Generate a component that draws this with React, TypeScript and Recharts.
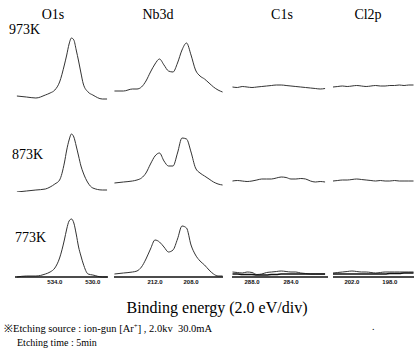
import { LineChart, Line, XAxis, YAxis } from "recharts";

// energy grids (eV) per element
const o1sEnergy = [538, 537, 536, 535, 534.5, 534, 533.5, 533, 532.75, 532.5, 532.25, 532, 531.75, 531.5, 531.25, 531, 530.5, 530, 529, 528.5];
const nb3dEnergy = [216.5, 215.5, 214.5, 214, 213.5, 213, 212.5, 212, 211.5, 211, 210.5, 210, 209.5, 209, 208.5, 208, 207.5, 207, 206.5, 206, 205.5, 205, 204.5];
const c1sEnergy = [290, 289.5, 289, 288.5, 288, 287.5, 287, 286.5, 286, 285.5, 285, 284.5, 284, 283.5, 283, 282.5, 282, 281.5, 281, 280.5];
const cl2pEnergy = [204, 203.5, 203, 202.5, 202, 201.5, 201, 200.5, 200, 199.5, 199, 198.5, 198, 197.5, 197, 196.5, 196, 195.5];

// intensities (arb.) per temperature
const o1s973 = [4, 3, 2, 5, 7, 10, 18, 35, 45, 56, 62, 60, 50, 39, 27, 16, 8, 5, 1, 1];
const o1s873 = [0, 1, 2, 3, 5, 8, 12, 29, 42, 52, 58, 55, 46, 36, 26, 19, 9, 4, 2, 2];
const o1s773 = [0, 1, 1, 3, 5, 9, 19, 37, 48, 56, 58, 54, 43, 30, 21, 13, 3, 2, 0, 0];

const nb3d973 = [9, 9, 11, 11, 13, 19, 28, 36, 41, 35, 29, 28, 37, 50, 57, 45, 30, 24, 21, 17, 13, 10, 8];
const nb3d873 = [9, 10, 11, 12, 14, 19, 28, 36, 39, 31, 26, 26, 39, 54, 53, 40, 24, 19, 16, 13, 10, 8, 7];
const nb3d773 = [3, 4, 5, 6, 10, 18, 28, 37, 35, 30, 25, 27, 38, 51, 49, 32, 22, 16, 12, 7, 3, 1, 1];

const c1s973 = [13, 12.5, 13.5, 13, 12.5, 13, 13.5, 14, 14.5, 15, 15, 14.5, 14, 13.5, 13, 12.5, 12, 11.5, 11, 11.5];
const c1s873 = [11, 11.5, 11, 10.5, 11, 12, 13, 13, 13, 14, 15, 14.5, 13, 13, 13.5, 13, 11, 10, 10.5, 10];
const c1s773a = [5, 4.5, 4, 5, 4.5, 2.5, 3, 4.5, 5, 5.5, 6, 5.5, 5, 5, 4, 3.5, 3, 3, 3, 3];
const c1s773b = [3, 3, 2.5, 2.5, 2.5, 2, 2, 2, 2.5, 2.5, 3, 3, 3, 3, 3, 3, 3, 3, 3, 3];

const cl2p973 = [13, 13.5, 14, 13.5, 14, 14.5, 14, 13.5, 14, 14.5, 14, 14, 14.5, 14.5, 15, 14.5, 15, 15];
const cl2p873 = [11, 11.5, 12, 12, 12.5, 13, 12.5, 12, 11.5, 11, 11.5, 11, 11, 11.5, 11, 11, 11, 11];
const cl2p773a = [4, 4.5, 5, 5.5, 6, 5.5, 5, 5, 4.5, 4, 4.5, 5, 5, 5, 5, 5, 5, 5];
const cl2p773b = [3, 3, 3, 3, 3, 3, 3, 3, 3, 3, 3, 3, 3.5, 3.5, 3.5, 4, 4, 4];

const elements = ["O1s", "Nb3d", "C1s", "Cl2p"];
const temps = ["973K", "873K", "773K"];

const o1sTicks = [534, 530];
const nb3dTicks = [212, 208];
const c1sTicks = [288, 284];
const cl2pTicks = [202, 198];

const serif = "'Liberation Serif', 'DejaVu Serif', serif";

type Col = {
  left: number;
  width: number;
  domain: [number, number];
  energy: number[];
  rows: number[][][];
  ticks: number[];
};

const cols: Col[] = [
  { left: 15, width: 93, domain: [528.4, 538.2], energy: o1sEnergy, rows: [[o1s973], [o1s873], [o1s773]], ticks: o1sTicks },
  { left: 114, width: 109, domain: [204.45, 216.55], energy: nb3dEnergy, rows: [[nb3d973], [nb3d873], [nb3d773]], ticks: nb3dTicks },
  { left: 232, width: 96, domain: [280.2, 290.05], energy: c1sEnergy, rows: [[c1s973], [c1s873], [c1s773a, c1s773b]], ticks: c1sTicks },
  { left: 333, width: 81, domain: [195.45, 204], energy: cl2pEnergy, rows: [[cl2p973], [cl2p873], [cl2p773a, cl2p773b]], ticks: cl2pTicks },
];

const rowTops = [28, 120, 205];
const plotH = 72;
const axisH = 12;

function Spectrum({ col, row }: { col: Col; row: number }) {
  const series = col.rows[row];
  const data = col.energy.map((e, i) => {
    const d: Record<string, number> = { e };
    series.forEach((s, k) => (d["s" + k] = s[i]));
    return d;
  });
  const bottom = row === 2;
  return (
    <div style={{ position: "absolute", left: col.left, top: rowTops[row] }}>
      <LineChart
        width={col.width}
        height={plotH + (bottom ? axisH : 0)}
        data={data}
        margin={{ top: 0, right: 0, bottom: 0, left: 0 }}
      >
        <XAxis
          type="number"
          dataKey="e"
          domain={col.domain}
          reversed
          hide={!bottom}
          ticks={col.ticks}
          height={axisH}
          tickLine={false}
          tickSize={2}
          tickMargin={1}
          axisLine={{ stroke: "#111", strokeWidth: 1.5 }}
          tickFormatter={(v: number) => v.toFixed(1)}
          tick={{ fontSize: 6, fontWeight: 700, fill: "#111", fontFamily: "'Liberation Sans', sans-serif" }}
        />
        <YAxis hide domain={[0, plotH]} />
        {series.map((_, k) => (
          <Line
            key={k}
            dataKey={"s" + k}
            type="monotone"
            stroke={k === 0 ? "#333" : "#111"}
            strokeWidth={k === 0 ? 1 : 1.4}
            dot={false}
            isAnimationActive={false}
          />
        ))}
      </LineChart>
    </div>
  );
}

const titleX = [53, 158, 282, 368];
const tempPos = [
  { left: 9, top: 22 },
  { left: 12, top: 147 },
  { left: 15, top: 230 },
];

export default function App() {
  return (
    <div
      style={{
        position: "absolute",
        left: 0,
        top: 0,
        width: 414,
        height: 356,
        background: "#fff",
        fontFamily: serif,
        color: "#000",
        overflow: "hidden",
      }}
    >
      {elements.map((name, i) => (
        <div
          key={name}
          style={{ position: "absolute", left: titleX[i] - 30, width: 60, top: 7, textAlign: "center", fontSize: 14 }}
        >
          {name}
        </div>
      ))}
      {temps.map((t, i) => (
        <div key={t} style={{ position: "absolute", left: tempPos[i].left, top: tempPos[i].top, fontSize: 14 }}>
          {t}
        </div>
      ))}
      {cols.map((c, ci) => [0, 1, 2].map((r) => <Spectrum key={ci + "-" + r} col={c} row={r} />))}
      <div style={{ position: "absolute", left: 10, width: 414, top: 299, textAlign: "center", fontSize: 16 }}>
        Binding energy (2.0 eV/div)
      </div>
      <div style={{ position: "absolute", left: 4, top: 321, fontSize: 10.5 }}>
        ※Etching source : ion-gun [Ar<sup style={{ fontSize: 7 }}>+</sup>] , 2.0kv&nbsp;&nbsp;30.0mA
      </div>
      <div style={{ position: "absolute", left: 17, top: 337, fontSize: 10 }}>Etching time : 5min</div>
      <div style={{ position: "absolute", left: 372, top: 321, fontSize: 10 }}>.</div>
    </div>
  );
}
